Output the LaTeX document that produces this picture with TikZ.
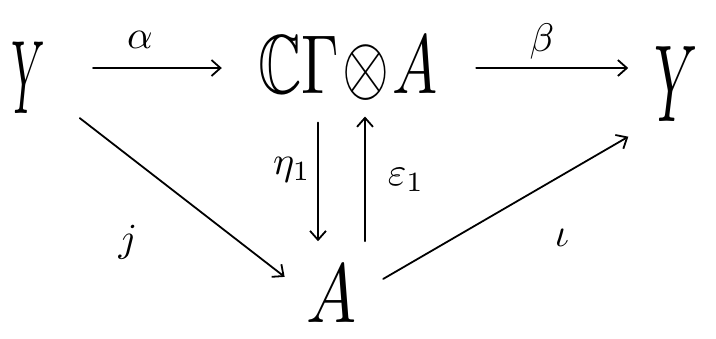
\documentclass[tikz,border=0pt]{standalone}
\usepackage{amssymb}
\usetikzlibrary{arrows.meta}
\begin{document}
\begin{tikzpicture}[x=1bp,y=-1bp,
  obj/.style={inner sep=0pt},
  lbl/.style={inner sep=0pt},
  map/.style={line width=1.8pt,line cap=round,-{Straight Barb[length=9pt,width=16pt,line width=1.8pt]}}]
  \useasboundingbox (0,0) rectangle (716,338);
  % objects
  \node[obj] (Y1) at (28,78) {\scalebox{4.2}[10.5]{$Y$}};
  \node[obj] (C) at (348,68) {\scalebox{6.05}[8.4]{$\mathbb{C}\Gamma\!\otimes\! A$}};
  \node[obj] (Y2) at (676,84) {\scalebox{5.4}[11]{$Y$}};
  \node[obj] (A) at (332,294) {\scalebox{6.7}[8.4]{$A$}};
  % top row
  \draw[map,shorten <=48bp,shorten >=36bp] (Y1.east |- C.west) -- (C.west);
  \draw[map,shorten <=38bp,shorten >=26bp] (C.east) -- (Y2.west |- C.east);
  % adjunction pair
  \draw[map,shorten <=22bp,shorten >=24bp] (C.south -| 318,0) -- (A.north -| 318,0);
  \draw[map,shorten <=24bp,shorten >=16bp] (A.north -| 365,0) -- (C.south -| 365,0);
  % diagonals
  \draw[map,shorten <=44bp,shorten >=28bp] (Y1) -- (A.west);
  \draw[map,shorten <=30bp,shorten >=30bp] (A.east) -- (Y2.south west);
  % labels
  \node[lbl] (la) at (140,40) {\scalebox{4}{$\alpha$}};
  \node[lbl] (lb) at (542,42) {\scalebox{4}{$\beta$}};
  \node[lbl] (lj) at (128,242) {\scalebox{4}{$j$}};
  \node[lbl] (li) at (562,238) {\scalebox{4}{$\iota$}};
  \node[lbl] (le) at (292,170) {\scalebox{4}{$\eta_1$}};
  \node[lbl] (lep) at (406,180) {\scalebox{4}{$\varepsilon_1$}};
\end{tikzpicture}
\end{document}
